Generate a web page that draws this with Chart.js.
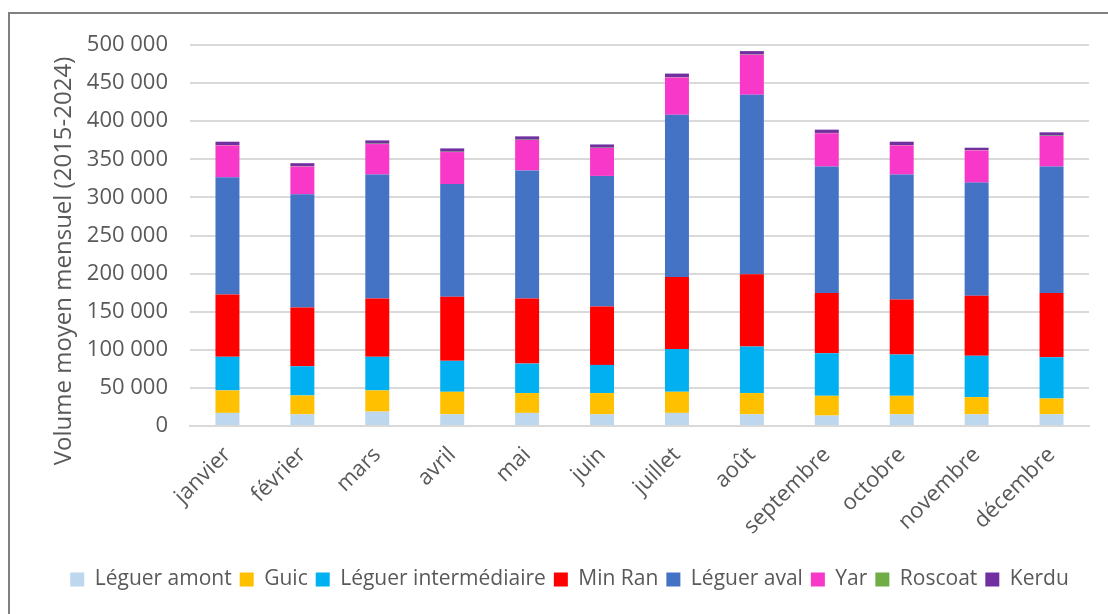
<!DOCTYPE html>
<html>
<head>
<meta charset="utf-8">
<script src="https://cdn.jsdelivr.net/npm/chart.js@4"></script>
<style>
  body { margin: 0; overflow: hidden; background: #fff; }
  .frame {
    position: absolute; left: 8px; top: 12px;
    width: 1200px; height: 700px;
    border: 2px solid #808080;
  }
  #chart { position: absolute; left: 0; top: 0; }
</style>
</head>
<body>
<div class="frame"></div>
<canvas id="chart" width="1108" height="614"></canvas>
<script>
const months = ["janvier", "février", "mars", "avril", "mai", "juin",
  "juillet", "août", "septembre", "octobre", "novembre", "décembre"];

const leguerAmont = [17200, 15400, 18900, 15400, 17200, 15400, 17200, 15400, 13700, 15400, 15400, 15400];
const guic = [29500, 24700, 27800, 29500, 26000, 27800, 27700, 27800, 25900, 24200, 22500, 20700];
const leguerInter = [44100, 38300, 44100, 40600, 38700, 37000, 56000, 61200, 56000, 54200, 54200, 54200];
const minRan = [81900, 77100, 76600, 84100, 85500, 76600, 94700, 94700, 78900, 72300, 78800, 84200];
const leguerAval = [153700, 148500, 162600, 148000, 167900, 171400, 212800, 235700, 166000, 163900, 148500, 166000];
const yar = [41900, 36500, 40000, 41900, 40000, 36600, 48900, 52400, 43700, 38300, 42300, 40100];
const roscoat = [500, 450, 500, 450, 450, 400, 400, 400, 400, 450, 450, 500];
const kerdu = [4300, 3950, 4300, 4350, 4350, 4300, 4800, 4400, 4300, 4350, 3050, 4300];

const yTitle = "Volume moyen mensuel (2015-2024)";
const textColor = "#595959";
const gridColor = "#d9d9d9";
const fontFamily = "'Open Sans', sans-serif";

const series = [
  { label: "Léguer amont", data: leguerAmont, color: "#BDD7EE" },
  { label: "Guic", data: guic, color: "#FFC000" },
  { label: "Léguer intermédiaire", data: leguerInter, color: "#00B0F0" },
  { label: "Min Ran", data: minRan, color: "#FF0000" },
  { label: "Léguer aval", data: leguerAval, color: "#4472C4" },
  { label: "Yar", data: yar, color: "#F838C8" },
  { label: "Roscoat", data: roscoat, color: "#70AD47" },
  { label: "Kerdu", data: kerdu, color: "#7030A0" },
];

// y axis title, placed by hand like the original
const yTitlePlugin = {
  id: "yTitle",
  afterDraw(chart) {
    const c = chart.ctx;
    c.save();
    c.translate(64, 261);
    c.rotate(-Math.PI / 2);
    c.font = "24px " + fontFamily;
    c.fillStyle = textColor;
    c.textAlign = "center";
    c.textBaseline = "middle";
    c.fillText(yTitle, 0, 0);
    c.restore();
  },
};

const fmt = (v) => String(v).replace(/\B(?=(\d{3})+(?!\d))/g, " ");

new Chart(document.getElementById("chart"), {
  type: "bar",
  data: {
    labels: months,
    datasets: series.map((s) => ({
      label: s.label,
      data: s.data,
      backgroundColor: s.color,
      borderWidth: 0,
      barPercentage: 0.32,
      categoryPercentage: 1,
    })),
  },
  options: {
    responsive: false,
    animation: false,
    layout: { padding: { top: 45, right: 19, left: 50, bottom: 14 } },
    scales: {
      x: {
        stacked: true,
        grid: { display: false },
        border: { display: true, color: gridColor, width: 2 },
        ticks: {
          color: textColor,
          font: { family: fontFamily, size: 22 },
          maxRotation: 45,
          minRotation: 45,
          autoSkip: false,
          padding: 8,
        },
        afterFit: (s) => { s.height = 135; },
      },
      y: {
        stacked: true,
        min: 0,
        max: 500000,
        grid: { color: gridColor, lineWidth: 2, drawTicks: false },
        border: { display: false },
        ticks: {
          stepSize: 50000,
          color: textColor,
          font: { family: fontFamily, size: 22 },
          padding: 22,
          callback: (v) => fmt(v),
        },
        afterFit: (s) => { s.width = 140; },
      },
    },
    plugins: {
      legend: {
        position: "bottom",
        labels: {
          color: textColor,
          font: { family: fontFamily, size: 21 },
          boxWidth: 14,
          boxHeight: 14,
          padding: 8,
        },
      },
      tooltip: { enabled: false },
    },
  },
  plugins: [yTitlePlugin],
});
</script>
</body>
</html>
